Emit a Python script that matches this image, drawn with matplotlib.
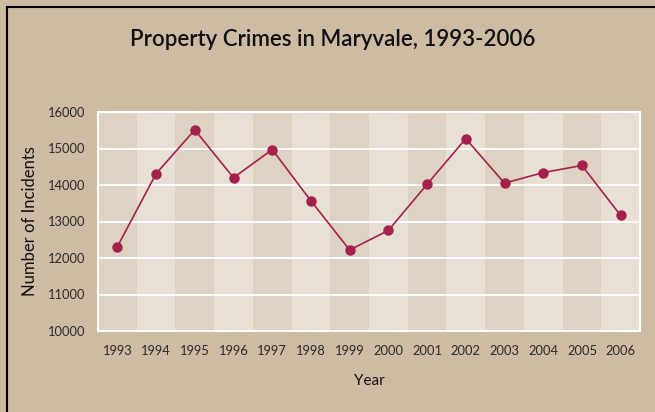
import matplotlib
matplotlib.use("Agg")
import matplotlib.pyplot as plt
from matplotlib.lines import Line2D

years = [1993, 1994, 1995, 1996, 1997, 1998, 1999, 2000, 2001, 2002, 2003, 2004, 2005, 2006]
incidents = [12310, 14310, 15510, 14200, 14970, 13565, 12220, 12755, 14020, 15270, 14050, 14340, 14535, 13165]
y_ticks = [10000, 11000, 12000, 13000, 14000, 15000, 16000]

title = "Property Crimes in Maryvale, 1993-2006"
xlabel = "Year"
ylabel = "Number of Incidents"

bg = "#cebba4"
band_dark = "#ded2c2"
band_light = "#e8e0d5"
line_color = "#a3214c"
text_color = "#2a2a2a"

plt.rcParams['font.family'] = ['Lato', 'DejaVu Sans']

fig = plt.figure(figsize=(6.55, 4.12), dpi=100, facecolor=bg)
W, H = 655, 412
left, right, top, bottom = 98, 640, 112, 331
ax = fig.add_axes([left / W, 1 - bottom / H, (right - left) / W, (bottom - top) / H])
ax.set_facecolor(band_light)

for i, yr in enumerate(years):
    ax.axvspan(yr - 0.5, yr + 0.5, color=band_dark if i % 2 == 0 else band_light, lw=0, zorder=0)

ax.set_xlim(years[0] - 0.5, years[-1] + 0.5)
ax.set_ylim(y_ticks[0], y_ticks[-1])
ax.set_yticks(y_ticks)
ax.set_xticks(years)
ax.set_xticklabels([str(y) for y in years])
ax.grid(axis='y', color='white', lw=1.3, zorder=1)
ax.grid(axis='x', visible=False)
for s in ax.spines.values():
    s.set_color('white')
    s.set_linewidth(1.5)
ax.tick_params(length=0, labelsize=9.3, colors=text_color, pad=10)
ax.tick_params(axis='y', pad=9)

ax.plot(years, incidents, color=line_color, lw=1.2, marker='o', ms=6.5, zorder=3, clip_on=False)

ax.set_xlabel(xlabel, fontsize=11, color='#111111', labelpad=12)
ax.set_ylabel(ylabel, fontsize=12, color='#111111', va='center')
ax.yaxis.set_label_coords((30 - left) / (right - left), 0.5)

fig.text(333 / W, 1 - 40 / H, title, ha='center', va='center', fontsize=16, fontweight='semibold', color='#111111')

# border lines (left and top)
fig.add_artist(Line2D([6.5 / W, 6.5 / W], [0, 1 - 6.5 / H], color='black', lw=1.5, transform=fig.transFigure))
fig.add_artist(Line2D([6.5 / W, 1], [1 - 6.5 / H, 1 - 6.5 / H], color='black', lw=1.5, transform=fig.transFigure))

fig.savefig("out.png", dpi=100, facecolor=bg)
